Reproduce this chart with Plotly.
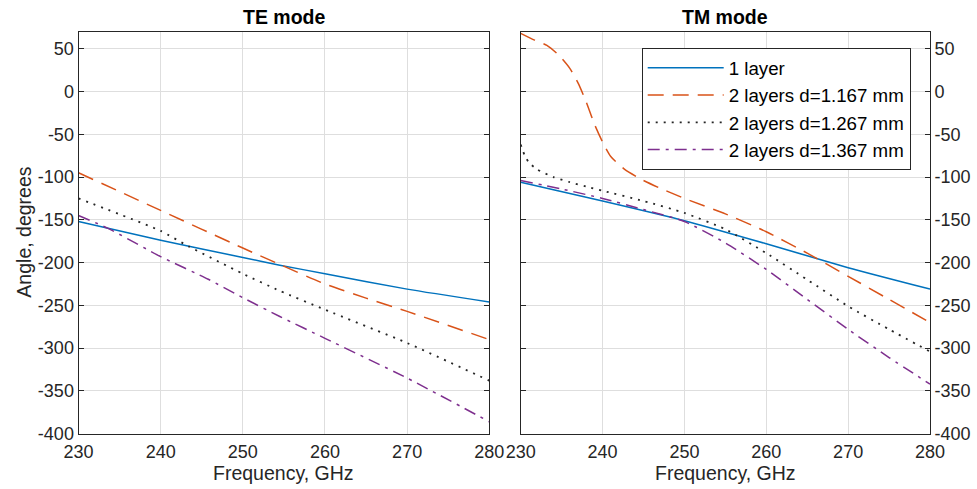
import plotly.graph_objects as go

# ---------------- data ----------------
# TE mode
te_1layer_f = [230, 240, 250, 254.5, 260, 270, 280]
te_1layer_a = [-152, -174, -194, -203, -213, -231, -246]

te_d1167_f = [230, 240, 250, 254.7, 260, 265, 270, 280]
te_d1167_a = [-95, -139, -183, -203, -225, -241.5, -257, -290]

te_d1267_f = [230, 240, 243.4, 250, 254.5, 260, 270, 280]
te_d1267_a = [-125, -163, -181, -213, -233, -255, -294, -338]

te_d1367_f = [230, 233.6, 240, 245.8, 250, 254.5, 260, 270, 280]
te_d1367_a = [-145, -160, -193, -219.5, -241, -263, -288.5, -335, -386]

# TM mode
tm_1layer_f = [230, 240, 250, 260, 270, 280]
tm_1layer_a = [-106, -128, -151, -178, -206, -231]

tm_d1167_f = [230, 231.7, 233.2, 234.6, 236, 237, 238, 239, 240, 241, 242.7,
              244.8, 246.8, 250, 255, 260, 265, 270, 275, 280]
tm_d1167_a = [68, 60, 54, 43, 27, 10, -12, -38, -59, -76, -91,
              -103, -112, -125, -143, -164, -189, -216, -243, -270]

tm_d1267_f = [230, 230.5, 231, 232, 234, 236, 238, 240, 245, 250, 255, 260,
              265, 270, 275, 280]
tm_d1267_a = [-62, -75, -83, -91, -100, -106, -111, -116, -128, -142, -161,
              -189, -220, -251, -278, -304]

tm_d1367_f = [230, 235, 240, 245, 250, 255, 260, 265, 270, 275, 280]
tm_d1367_a = [-104, -114, -125, -138, -152, -177, -208, -243, -278, -311, -342]

series_names = ["1 layer", "2 layers d=1.167 mm", "2 layers d=1.267 mm",
                "2 layers d=1.367 mm"]
panel_titles = ["TE mode", "TM mode"]
x_title = "Frequency, GHz"
y_title = "Angle, degrees"
x_ticks = [230, 240, 250, 260, 270, 280]
y_ticks = [-400, -350, -300, -250, -200, -150, -100, -50, 0, 50]
y_tick_labels = ["-400", "-350", "-300", "-250", "-200", "-150", "-100",
                 "-50", "0", "50"]

# ---------------- styling ----------------
W, H = 977, 489
FONT = "Liberation Sans, Arial, Helvetica, sans-serif"
AX = "#262626"
GRID = "#dedede"
colors = ["#0072BD", "#D95319", "#262626", "#7E2F8E"]
dashes = ["solid", "16px,9px", "2px,6px", "12px,6px,3px,6px"]
widths = [1.5, 1.5, 1.8, 1.5]

te = [(te_1layer_f, te_1layer_a), (te_d1167_f, te_d1167_a),
      (te_d1267_f, te_d1267_a), (te_d1367_f, te_d1367_a)]
tm = [(tm_1layer_f, tm_1layer_a), (tm_d1167_f, tm_d1167_a),
      (tm_d1267_f, tm_d1267_a), (tm_d1367_f, tm_d1367_a)]

fig = go.Figure()
for i, (f, a) in enumerate(te):
    fig.add_trace(go.Scatter(x=f, y=a, mode="lines", name=series_names[i],
                             showlegend=False, xaxis="x", yaxis="y",
                             line=dict(color=colors[i], dash=dashes[i],
                                       width=widths[i], shape="spline",
                                       smoothing=0.6)))
for i, (f, a) in enumerate(tm):
    fig.add_trace(go.Scatter(x=f, y=a, mode="lines", name=series_names[i],
                             showlegend=True, xaxis="x2", yaxis="y2",
                             line=dict(color=colors[i], dash=dashes[i],
                                       width=widths[i], shape="spline",
                                       smoothing=0.6)))

px = lambda v: v / W
py = lambda v: (H - v) / H

xd1 = [px(78.5), px(489.3)]
xd2 = [px(520.7), px(930)]
yd = [py(433.7), py(31.6)]

# main x axes: labels pushed down by transparent outside ticks
main_x = dict(range=[230, 280], tickvals=x_ticks, showgrid=True,
              gridcolor=GRID, gridwidth=1, zeroline=False, automargin=False,
              showline=True, linecolor=AX, linewidth=1, mirror=True,
              ticks="outside", ticklen=2, tickcolor="rgba(0,0,0,0)",
              tickfont=dict(family=FONT, size=18, color=AX))
# overlay x axes: only inside tick marks (bottom and top)
tick_x = dict(range=[230, 280], tickvals=x_ticks, showgrid=False,
              zeroline=False, showline=False, mirror="ticks",
              ticks="inside", ticklen=5, tickcolor=AX, tickwidth=1,
              showticklabels=False, automargin=False)
common_y = dict(range=[-400, 70], tickvals=y_ticks, ticktext=y_tick_labels,
                showgrid=True, gridcolor=GRID, gridwidth=1, zeroline=False,
                automargin=False, showline=True, linecolor=AX, linewidth=1,
                mirror="ticks", ticks="inside", ticklen=5, tickcolor=AX,
                tickwidth=1, tickfont=dict(family=FONT, size=18, color=AX))

fig.update_layout(
    width=W, height=H,
    margin=dict(l=0, r=0, t=0, b=0, autoexpand=False),
    paper_bgcolor="white", plot_bgcolor="white",
    font=dict(family=FONT, color=AX),
    xaxis=dict(domain=xd1, anchor="y", **main_x),
    yaxis=dict(domain=yd, anchor="x", side="left", **common_y),
    xaxis2=dict(domain=xd2, anchor="y2", **main_x),
    yaxis2=dict(domain=yd, anchor="x2", side="right", **common_y),
    xaxis3=dict(overlaying="x", anchor="y", **tick_x),
    xaxis4=dict(overlaying="x2", anchor="y2", **tick_x),
    legend=dict(x=px(910.7), y=py(48), xanchor="right", yanchor="top",
                bgcolor="white", bordercolor=AX, borderwidth=1,
                font=dict(family=FONT, size=18.7, color="black"),
                itemwidth=76, tracegroupgap=0),
    showlegend=True,
)

for k, t in enumerate(panel_titles):
    d = xd1 if k == 0 else xd2
    cx = (d[0] + d[1]) / 2
    fig.add_annotation(text="<b>" + t + "</b>", x=cx,
                       y=py(17), xref="paper", yref="paper",
                       xanchor="center", yanchor="middle", showarrow=False,
                       font=dict(family=FONT, size=19.5, color="black"))
    fig.add_annotation(text=x_title, x=cx, y=py(486), xref="paper",
                       yref="paper", xanchor="center", yanchor="bottom",
                       showarrow=False,
                       font=dict(family=FONT, size=19.5, color=AX))

fig.add_annotation(text=y_title, textangle=-90, x=px(24),
                   y=(yd[0] + yd[1]) / 2, xref="paper", yref="paper",
                   xanchor="center", yanchor="middle", showarrow=False,
                   font=dict(family=FONT, size=19.5, color=AX))

fig.write_html("out.html")
